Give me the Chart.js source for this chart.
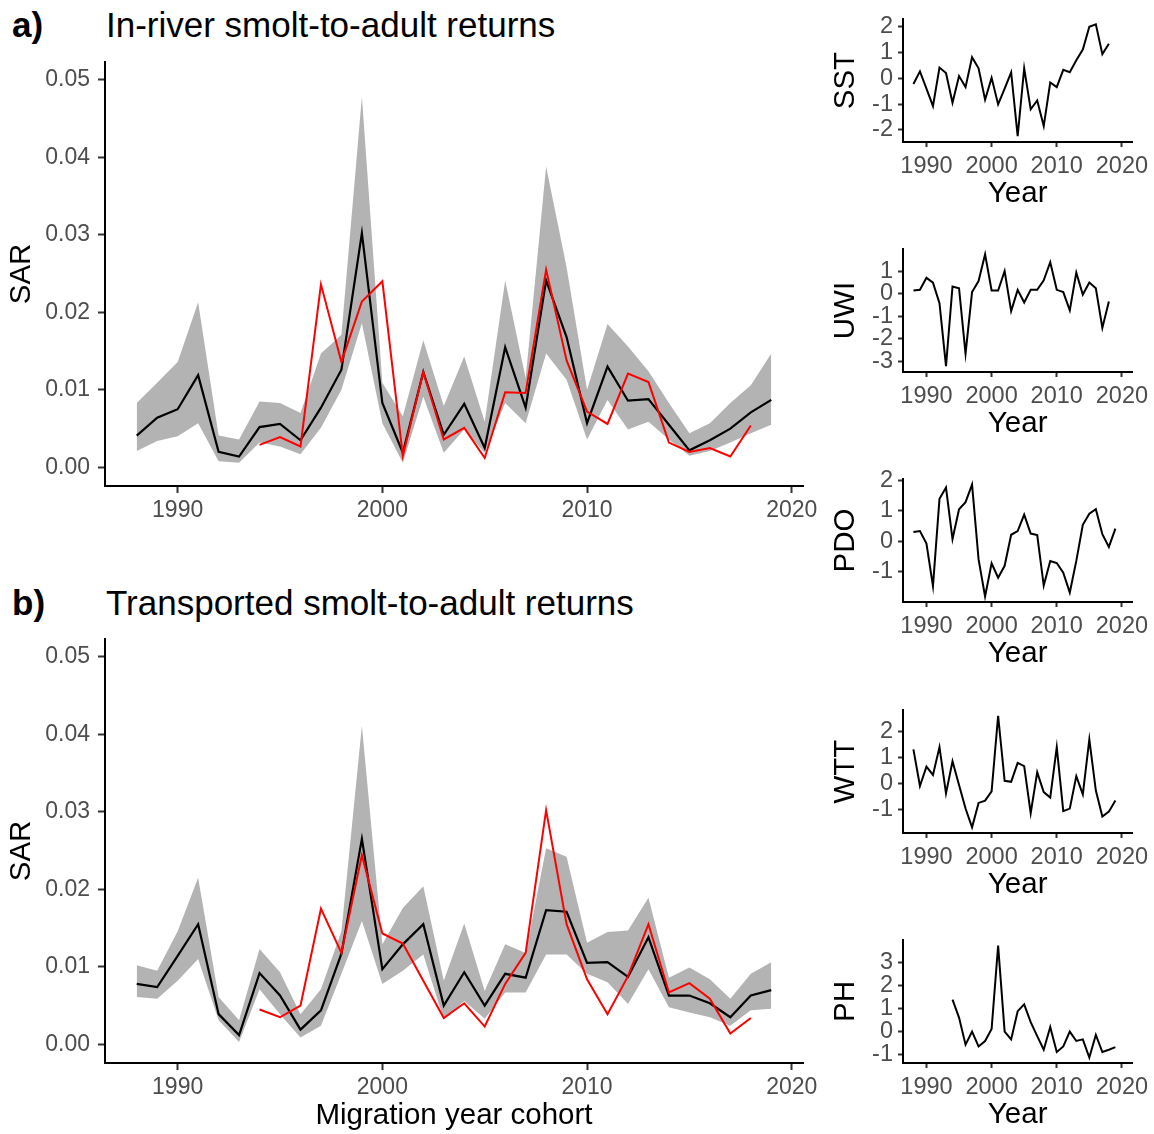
<!DOCTYPE html>
<html>
<head>
<meta charset="utf-8">
<script src="https://cdn.jsdelivr.net/npm/chart.js@4/dist/chart.umd.min.js"></script>
<style>
  html, body { margin: 0; padding: 0; background: #fff; overflow: hidden; }
  body { width: 1154px; height: 1134px; position: relative; font-family: 'Liberation Sans', Arial, sans-serif; }
  canvas { position: absolute; }
  .tag { position: absolute; font-size: 35px; font-weight: bold; line-height: 1; color: #000; }
  .ttl { position: absolute; font-size: 35px; line-height: 1; color: #000; white-space: nowrap; }
</style>
</head>
<body>
<div class="tag" style="left:12px;top:7px">a)</div>
<div class="ttl" style="left:106px;top:7px">In-river smolt-to-adult returns</div>
<div class="tag" style="left:12px;top:585px">b)</div>
<div class="ttl" style="left:106px;top:585px">Transported smolt-to-adult returns</div>

<canvas id="sarRiver" width="830" height="520" style="left:0;top:40px"></canvas>
<canvas id="sarTrans" width="830" height="517" style="left:0;top:617px"></canvas>
<canvas id="envSST" width="334" height="213" style="left:820px;top:0px"></canvas>
<canvas id="envUWI" width="334" height="213" style="left:820px;top:230px"></canvas>
<canvas id="envPDO" width="334" height="213" style="left:820px;top:460px"></canvas>
<canvas id="envWTT" width="334" height="213" style="left:820px;top:691px"></canvas>
<canvas id="envPH" width="334" height="213" style="left:820px;top:921px"></canvas>

<script>
// Migration year cohorts
const cohortYears = [1988,1989,1990,1991,1992,1993,1994,1995,1996,1997,1998,1999,2000,2001,2002,2003,
                     2004,2005,2006,2007,2008,2009,2010,2011,2012,2013,2014,2015,2016,2017,2018,2019];

// In-river SAR: model median, 95% interval, observed
const riverMedian = [0.0041,0.0064,0.0075,0.0119,0.0020,0.0014,0.0052,0.0056,0.0035,0.0077,0.0126,0.0302,0.0083,0.0019,0.0123,0.0042,
                     0.0082,0.0025,0.0155,0.0077,0.0241,0.0168,0.0057,0.0130,0.0086,0.0088,0.0055,0.0022,0.0035,0.0050,0.0071,0.0087];
const riverUpper  = [0.0083,0.0109,0.0136,0.0213,0.0041,0.0036,0.0085,0.0083,0.0070,0.0147,0.0171,0.0478,0.0109,0.0066,0.0164,0.0079,
                     0.0143,0.0059,0.0241,0.0115,0.0388,0.0258,0.0100,0.0185,0.0156,0.0124,0.0083,0.0044,0.0057,0.0083,0.0106,0.0147];
const riverLower  = [0.0021,0.0034,0.0040,0.0057,0.0008,0.0006,0.0032,0.0027,0.0017,0.0051,0.0100,0.0186,0.0057,0.0006,0.0091,0.0019,
                     0.0049,0.0019,0.0083,0.0057,0.0147,0.0113,0.0036,0.0087,0.0049,0.0059,0.0036,0.0015,0.0021,0.0032,0.0044,0.0055];
const riverObserved = [null,null,null,null,null,null,0.0029,0.0039,0.0027,0.0236,0.0136,0.0214,0.0240,0.0015,0.0123,0.0036,
                       0.0051,0.0012,0.0097,0.0096,0.0255,0.0138,0.0072,0.0056,0.0121,0.0110,0.0032,0.0020,0.0025,0.0014,0.0054,null];

// Transported SAR: model median, 95% interval, observed
const transMedian = [0.0078,0.0074,0.0114,0.0155,0.0039,0.0012,0.0092,0.0063,0.0019,0.0044,0.0117,0.0265,0.0097,0.0129,0.0155,0.0050,
                     0.0093,0.0050,0.0091,0.0086,0.0173,0.0171,0.0105,0.0106,0.0087,0.0138,0.0063,0.0063,0.0053,0.0035,0.0063,0.0070];
const transUpper  = [0.0102,0.0095,0.0146,0.0215,0.0061,0.0031,0.0123,0.0093,0.0039,0.0071,0.0146,0.0411,0.0129,0.0176,0.0204,0.0082,
                     0.0156,0.0069,0.0129,0.0118,0.0253,0.0242,0.0131,0.0145,0.0147,0.0189,0.0086,0.0099,0.0084,0.0059,0.0091,0.0106];
const transLower  = [0.0061,0.0059,0.0082,0.0110,0.0031,0.0003,0.0071,0.0039,0.0009,0.0024,0.0091,0.0159,0.0078,0.0095,0.0116,0.0032,
                     0.0056,0.0033,0.0067,0.0067,0.0116,0.0116,0.0091,0.0080,0.0052,0.0097,0.0048,0.0041,0.0035,0.0024,0.0044,0.0046];
const transObserved = [null,null,null,null,null,null,0.0045,0.0035,0.0050,0.0175,0.0118,0.0244,0.0143,0.0130,0.0082,0.0034,
                       0.0053,0.0023,0.0078,0.0118,0.0302,0.0155,0.0084,0.0039,0.0088,0.0155,0.0067,0.0079,0.0059,0.0014,0.0034,null];

// Standardised environmental covariates
const sstValues = [-0.22,0.27,-0.40,-1.08,0.42,0.21,-0.95,0.09,-0.34,0.82,0.39,-0.83,0.02,-1.01,-0.40,0.23,
                   -2.24,0.39,-1.20,-0.86,-1.85,-0.16,-0.34,0.33,0.24,0.70,1.12,2.00,2.10,0.94,1.34,null];
const uwiValues = [0.14,0.17,0.70,0.49,-0.42,-3.20,0.32,0.24,-2.65,0.07,0.56,1.74,0.14,0.14,1.00,-0.77,
                   0.17,-0.39,0.17,0.17,0.59,1.39,0.17,0.07,-0.74,0.93,-0.04,0.49,0.24,-1.51,-0.35,null];
const pdoValues = [0.30,0.33,-0.08,-1.48,1.39,1.76,0.07,1.05,1.28,1.86,-0.60,-1.82,-0.73,-1.20,-0.81,0.21,
                   0.33,0.87,0.25,0.20,-1.46,-0.65,-0.72,-1.04,-1.69,-0.65,0.54,0.90,1.05,0.23,-0.19,0.41];
const wttValues = [1.32,-0.10,0.65,0.33,1.41,-0.39,0.86,-0.06,-0.98,-1.71,-0.76,-0.67,-0.31,2.63,0.10,0.06,
                   0.80,0.67,-1.16,0.43,-0.34,-0.55,1.41,-1.08,-0.98,0.28,-0.43,1.71,-0.28,-1.29,-1.10,-0.67];
const phValues  = [null,null,null,null,null,null,1.39,0.61,-0.57,0.00,-0.65,-0.41,0.11,3.75,0.00,-0.34,
                   0.89,1.19,0.41,-0.20,-0.79,0.20,-0.89,-0.65,0.00,-0.41,-0.34,-1.13,-0.14,-0.89,-0.79,-0.68];

// Tick labels
const yearTicks = [1990, 2000, 2010, 2020];
const sarTicks = [0, 0.01, 0.02, 0.03, 0.04, 0.05];
const sstTicks = [-2, -1, 0, 1, 2];
const uwiTicks = [-3, -2, -1, 0, 1];
const pdoTicks = [-1, 0, 1, 2];
const wttTicks = [-1, 0, 1, 2];
const phTicks  = [-1, 0, 1, 2, 3];

const FONT = "'Liberation Sans', Arial, sans-serif";
Chart.defaults.font.family = FONT;
const TICK_COL = '#4d4d4d';
const RIBBON = 'rgb(179,179,179)';

function toPoints(values) {
  return cohortYears.map((yr, i) => ({ x: yr, y: values[i] }));
}

function fixedTicks(list) {
  return scale => { scale.ticks = list.map(v => ({ value: v })); };
}

function baseOptions(padding) {
  return {
    responsive: false,
    animation: false,
    devicePixelRatio: 1,
    layout: { padding: padding },
    plugins: { legend: { display: false }, tooltip: { enabled: false } },
    elements: { point: { radius: 0 }, line: { tension: 0 } },
    spanGaps: false
  };
}

function sarChart(id, median, lower, upper, observed, xTitle, xAxisHeight) {
  const opts = baseOptions({ top: 18, right: 27, left: 0, bottom: 0 });
  opts.scales = {
    x: {
      type: 'linear', min: 1986.45, max: 2020.55,
      afterBuildTicks: fixedTicks(yearTicks),
      afterFit: s => { s.height = xAxisHeight; },
      ticks: { color: TICK_COL, font: { size: 23 }, padding: 4, maxRotation: 0, autoSkip: false, callback: v => String(v) },
      grid: { drawOnChartArea: false, drawTicks: true, tickLength: 7, tickColor: '#333', tickWidth: 2 },
      border: { display: true, color: '#000', width: 2 },
      title: { display: !!xTitle, text: xTitle || '', color: '#000', font: { size: 29.5 }, padding: { top: 0, bottom: 0 } }
    },
    y: {
      type: 'linear', min: -0.0024, max: 0.0523,
      afterBuildTicks: fixedTicks(sarTicks),
      afterFit: s => { s.width = 105; },
      ticks: { color: TICK_COL, font: { size: 23 }, padding: 8, autoSkip: false, callback: v => v.toFixed(2) },
      grid: { drawOnChartArea: false, drawTicks: true, tickLength: 7, tickColor: '#333', tickWidth: 2 },
      border: { display: true, color: '#000', width: 2 },
      title: { display: true, text: 'SAR', color: '#000', font: { size: 29.5 }, padding: { top: 4, bottom: 0 } }
    }
  };
  return new Chart(document.getElementById(id), {
    type: 'line',
    data: {
      datasets: [
        { label: 'Observed', data: toPoints(observed), borderColor: '#ff0000', borderWidth: 2, fill: false },
        { label: 'Median', data: toPoints(median), borderColor: '#000000', borderWidth: 2.2, fill: false },
        { label: 'Lower', data: toPoints(lower), borderColor: 'rgba(0,0,0,0)', borderWidth: 0, fill: false },
        { label: 'Upper', data: toPoints(upper), borderColor: 'rgba(0,0,0,0)', borderWidth: 0, fill: '-1', backgroundColor: RIBBON }
      ]
    },
    options: opts
  });
}

function envChart(id, label, values, yMin, yMax, ticks) {
  const opts = baseOptions({ top: 12, right: 21, left: 0, bottom: 0 });
  opts.scales = {
    x: {
      type: 'linear', min: 1986.4, max: 2021.6,
      afterBuildTicks: fixedTicks(yearTicks),
      afterFit: s => { s.height = 71; },
      ticks: { color: TICK_COL, font: { size: 23.5 }, padding: 5, maxRotation: 0, autoSkip: false, callback: v => String(v) },
      grid: { drawOnChartArea: false, drawTicks: true, tickLength: 5, tickColor: '#333', tickWidth: 2 },
      border: { display: true, color: '#000', width: 2 },
      title: { display: true, text: 'Year', color: '#000', font: { size: 29.5 }, padding: { top: 0, bottom: 1 } }
    },
    y: {
      type: 'linear', min: yMin, max: yMax,
      afterBuildTicks: fixedTicks(ticks),
      afterFit: s => { s.width = 83; },
      ticks: { color: TICK_COL, font: { size: 23.5 }, padding: 5, autoSkip: false, callback: v => String(v) },
      grid: { drawOnChartArea: false, drawTicks: true, tickLength: 5, tickColor: '#333', tickWidth: 2 },
      border: { display: true, color: '#000', width: 2 },
      title: { display: true, text: label, color: '#000', font: { size: 29.5 }, padding: { top: 8, bottom: 0 } }
    }
  };
  return new Chart(document.getElementById(id), {
    type: 'line',
    data: { datasets: [{ label: label, data: toPoints(values), borderColor: '#000', borderWidth: 2, fill: false }] },
    options: opts
  });
}

sarChart('sarRiver', riverMedian, riverLower, riverUpper, riverObserved, null, 74);
sarChart('sarTrans', transMedian, transLower, transUpper, transObserved, 'Migration year cohort', 71);

envChart('envSST', 'SST', sstValues, -2.47, 2.30, sstTicks);
envChart('envUWI', 'UWI', uwiValues, -3.46, 1.97, uwiTicks);
envChart('envPDO', 'PDO', pdoValues, -2.00, 2.04, pdoTicks);
envChart('envWTT', 'WTT', wttValues, -1.93, 2.85, wttTicks);
envChart('envPH',  'PH',  phValues,  -1.37, 3.99, phTicks);
</script>
</body>
</html>
